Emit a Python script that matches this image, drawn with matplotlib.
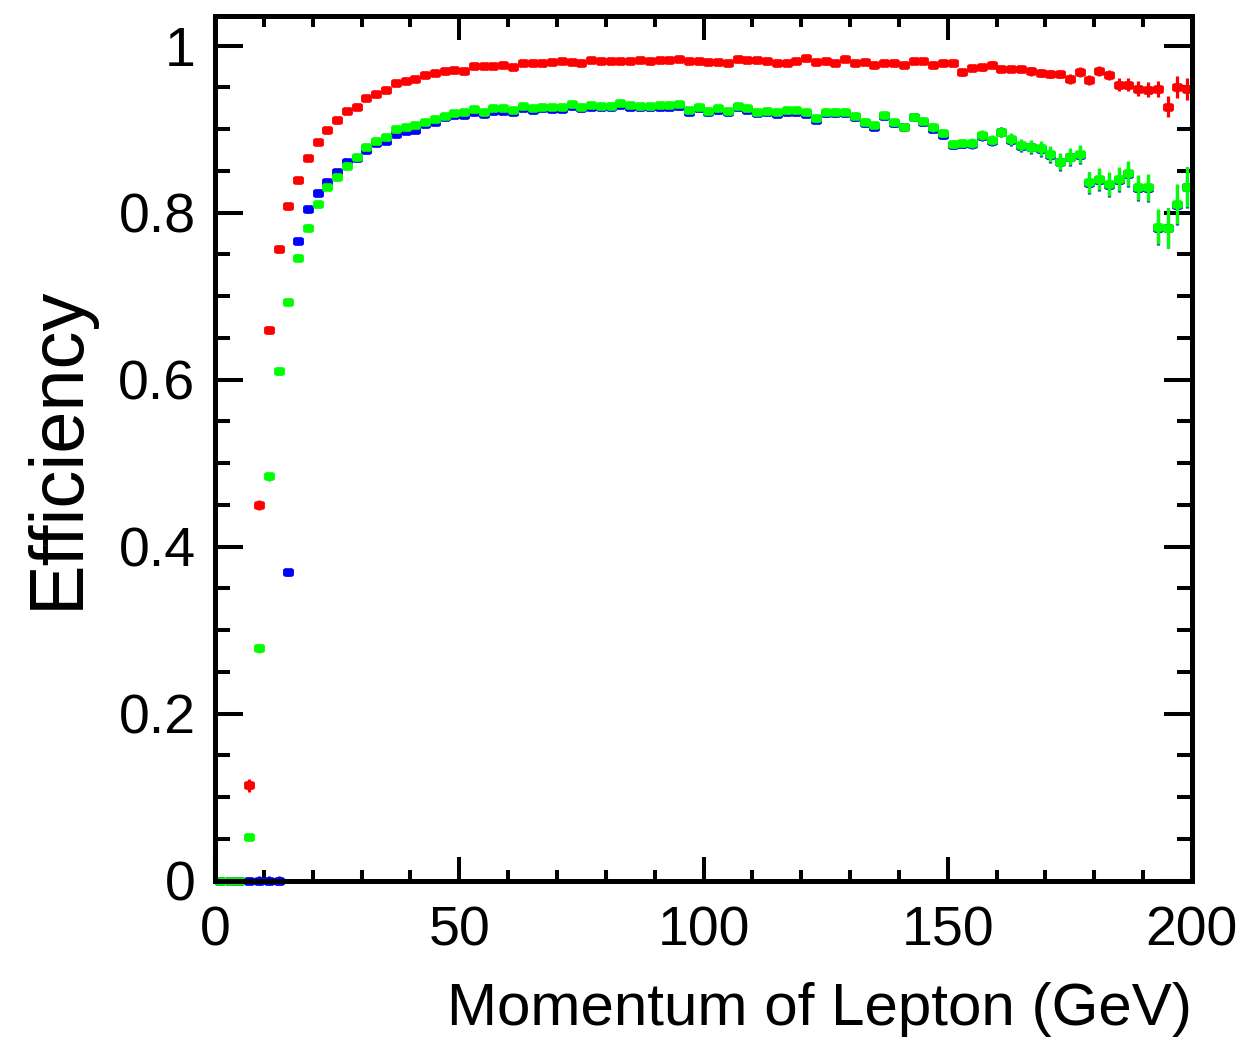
import matplotlib
matplotlib.use("Agg")
import matplotlib.pyplot as plt
import numpy as np
from matplotlib.path import Path
from matplotlib.ticker import MultipleLocator, FixedLocator
from matplotlib.transforms import ScaledTranslation

# ---- data (bin centres in GeV, 2 GeV bins) ----
momentum = list(range(1, 200, 2))

eff_red = [
    0.000, 0.000, 0.000, 0.114, 0.450, 0.659, 0.756, 0.808, 0.839, 0.865,
    0.884, 0.899, 0.911, 0.922, 0.927, 0.937, 0.942, 0.947, 0.955, 0.957,
    0.960, 0.965, 0.967, 0.970, 0.971, 0.970, 0.975, 0.975, 0.976, 0.977,
    0.974, 0.979, 0.979, 0.979, 0.980, 0.981, 0.980, 0.979, 0.983, 0.982,
    0.981, 0.982, 0.982, 0.983, 0.981, 0.983, 0.983, 0.984, 0.981, 0.981,
    0.980, 0.980, 0.979, 0.984, 0.983, 0.983, 0.981, 0.979, 0.979, 0.982,
    0.985, 0.980, 0.982, 0.979, 0.984, 0.979, 0.980, 0.977, 0.979, 0.979,
    0.977, 0.981, 0.981, 0.977, 0.979, 0.979, 0.968, 0.973, 0.974, 0.977,
    0.972, 0.972, 0.972, 0.969, 0.967, 0.966, 0.966, 0.960, 0.968, 0.959,
    0.969, 0.965, 0.953, 0.953, 0.948, 0.947, 0.948, 0.927, 0.950, 0.948,
]
err_red = [
    0.000, 0.000, 0.000, 0.008, 0.006, 0.005, 0.004, 0.004, 0.003, 0.003,
    0.003, 0.003, 0.003, 0.003, 0.003, 0.003, 0.003, 0.003, 0.003, 0.003,
    0.003, 0.003, 0.003, 0.003, 0.003, 0.003, 0.003, 0.003, 0.003, 0.003,
    0.003, 0.003, 0.003, 0.003, 0.003, 0.003, 0.003, 0.003, 0.003, 0.003,
    0.003, 0.003, 0.003, 0.003, 0.003, 0.003, 0.003, 0.003, 0.003, 0.003,
    0.003, 0.003, 0.003, 0.003, 0.003, 0.003, 0.003, 0.003, 0.003, 0.003,
    0.003, 0.003, 0.003, 0.003, 0.003, 0.003, 0.003, 0.003, 0.003, 0.003,
    0.003, 0.003, 0.003, 0.004, 0.004, 0.004, 0.004, 0.004, 0.004, 0.004,
    0.004, 0.004, 0.004, 0.005, 0.005, 0.005, 0.005, 0.006, 0.006, 0.006,
    0.006, 0.006, 0.008, 0.008, 0.009, 0.009, 0.010, 0.013, 0.013, 0.013,
]

eff_blue = [
    0.000, 0.000, 0.000, 0.000, 0.000, 0.000, 0.000, 0.369, 0.766, 0.804,
    0.823, 0.837, 0.849, 0.860, 0.865, 0.875, 0.883, 0.886, 0.894, 0.898,
    0.899, 0.906, 0.908, 0.915, 0.917, 0.917, 0.921, 0.918, 0.922, 0.922,
    0.921, 0.925, 0.923, 0.925, 0.924, 0.924, 0.928, 0.925, 0.927, 0.926,
    0.926, 0.929, 0.927, 0.926, 0.926, 0.927, 0.927, 0.928, 0.921, 0.925,
    0.920, 0.923, 0.920, 0.926, 0.923, 0.919, 0.920, 0.918, 0.921, 0.921,
    0.918, 0.911, 0.919, 0.919, 0.919, 0.914, 0.907, 0.903, 0.916, 0.907,
    0.902, 0.914, 0.909, 0.900, 0.893, 0.881, 0.882, 0.882, 0.892, 0.886,
    0.896, 0.887, 0.880, 0.878, 0.876, 0.869, 0.860, 0.866, 0.869, 0.835,
    0.839, 0.833, 0.839, 0.846, 0.829, 0.829, 0.782, 0.781, 0.809, 0.830,
]

eff_green = [
    0.000, 0.000, 0.000, 0.052, 0.278, 0.484, 0.610, 0.693, 0.746, 0.782,
    0.810, 0.830, 0.843, 0.856, 0.866, 0.879, 0.886, 0.891, 0.900, 0.902,
    0.905, 0.909, 0.912, 0.916, 0.919, 0.920, 0.924, 0.921, 0.925, 0.925,
    0.923, 0.928, 0.925, 0.927, 0.926, 0.926, 0.930, 0.927, 0.929, 0.928,
    0.928, 0.931, 0.929, 0.928, 0.928, 0.929, 0.929, 0.930, 0.923, 0.927,
    0.922, 0.925, 0.922, 0.928, 0.925, 0.921, 0.922, 0.920, 0.923, 0.923,
    0.920, 0.913, 0.921, 0.921, 0.921, 0.916, 0.909, 0.905, 0.917, 0.908,
    0.903, 0.915, 0.910, 0.902, 0.895, 0.882, 0.883, 0.883, 0.893, 0.887,
    0.897, 0.888, 0.881, 0.879, 0.877, 0.870, 0.861, 0.867, 0.870, 0.836,
    0.840, 0.834, 0.840, 0.847, 0.830, 0.830, 0.783, 0.782, 0.810, 0.831,
]
err_green = [
    0.000, 0.000, 0.000, 0.004, 0.005, 0.005, 0.005, 0.004, 0.004, 0.004,
    0.003, 0.003, 0.003, 0.003, 0.003, 0.003, 0.003, 0.003, 0.003, 0.003,
    0.003, 0.003, 0.003, 0.003, 0.003, 0.003, 0.003, 0.003, 0.003, 0.003,
    0.003, 0.003, 0.003, 0.003, 0.003, 0.003, 0.003, 0.003, 0.003, 0.003,
    0.003, 0.003, 0.003, 0.003, 0.003, 0.003, 0.003, 0.003, 0.003, 0.003,
    0.003, 0.003, 0.003, 0.003, 0.003, 0.003, 0.003, 0.003, 0.003, 0.003,
    0.004, 0.004, 0.004, 0.004, 0.004, 0.004, 0.004, 0.004, 0.004, 0.004,
    0.004, 0.004, 0.004, 0.005, 0.005, 0.005, 0.005, 0.006, 0.006, 0.006,
    0.006, 0.007, 0.007, 0.008, 0.009, 0.010, 0.010, 0.010, 0.011, 0.013,
    0.013, 0.014, 0.014, 0.015, 0.015, 0.016, 0.021, 0.024, 0.024, 0.024,
]
err_blue = err_green

x_ticks = [0, 50, 100, 150, 200]
x_tick_labels = ["0", "50", "100", "150", "200"]
y_ticks = [0, 0.2, 0.4, 0.6, 0.8, 1.0]
y_tick_labels = ["0", "0.2", "0.4", "0.6", "0.8", "1"]

# ---- figure ----
W, H = 1247, 1045
fig = plt.figure(figsize=(W / 100, H / 100), dpi=100)
ax = fig.add_axes([215 / W, 1 - 880.5 / H, (1192 - 215) / W, (880.5 - 15.5) / H])

marker_path = Path([(-1.0, -0.55), (-0.65, -0.8), (0.65, -0.8), (1.0, -0.55),
                    (1.0, 0.55), (0.65, 0.8), (-0.65, 0.8), (-1.0, 0.55),
                    (-1.0, -0.55)], closed=True)

for eff, err, col in [(eff_red, err_red, "#ff0000"),
                      (eff_blue, err_blue, "#0000ff"),
                      (eff_green, err_green, "#00ff00")]:
    ax.errorbar(momentum, eff, yerr=err, fmt="none", ecolor=col,
                elinewidth=2.3, capsize=0, clip_on=False)
    ax.plot(momentum, eff, linestyle="none", marker=marker_path,
            markersize=7.8, color=col, markeredgewidth=0, clip_on=False)

ax.set_xlim(0, 200)
ax.set_ylim(0, 1.036)

tick_font = ["Liberation Sans", "DejaVu Sans"]
title_font = ["Liberation Sans", "DejaVu Sans"]

ax.xaxis.set_major_locator(FixedLocator(x_ticks))
ax.xaxis.set_minor_locator(MultipleLocator(10))
ax.yaxis.set_major_locator(FixedLocator(y_ticks))
ax.yaxis.set_minor_locator(MultipleLocator(0.05))
ax.set_xticklabels(x_tick_labels, family=tick_font, fontsize=40)
ax.set_yticklabels(y_tick_labels, family=tick_font, fontsize=40)

ax.tick_params(axis="both", which="both", direction="in", top=True, right=True,
               width=2.9, color="black")
ax.tick_params(axis="x", which="major", length=17.5, pad=18)
ax.tick_params(axis="x", which="minor", length=8)
ax.tick_params(axis="y", which="major", length=20.5, pad=14)
ax.tick_params(axis="y", which="minor", length=11)

for sp in ax.spines.values():
    sp.set_linewidth(3.6)

# last x label sits right-aligned near the figure edge, as in the reference
lbl = ax.get_xticklabels()[-1]
lbl.set_horizontalalignment("right")
lbl.set_transform(lbl.get_transform() + ScaledTranslation(46 / 100, 0, fig.dpi_scale_trans))

fig.text(1192 / W, 1 - 1025 / H, "Momentum of Lepton (GeV)", ha="right",
         va="baseline", fontsize=43.3, family=title_font)
fig.text(78 / W, 1 - 447 / H, "Efficiency", rotation=90, rotation_mode="anchor",
         ha="center", va="baseline", fontsize=54.5, family=title_font)

fig.savefig("out.png", dpi=100)
